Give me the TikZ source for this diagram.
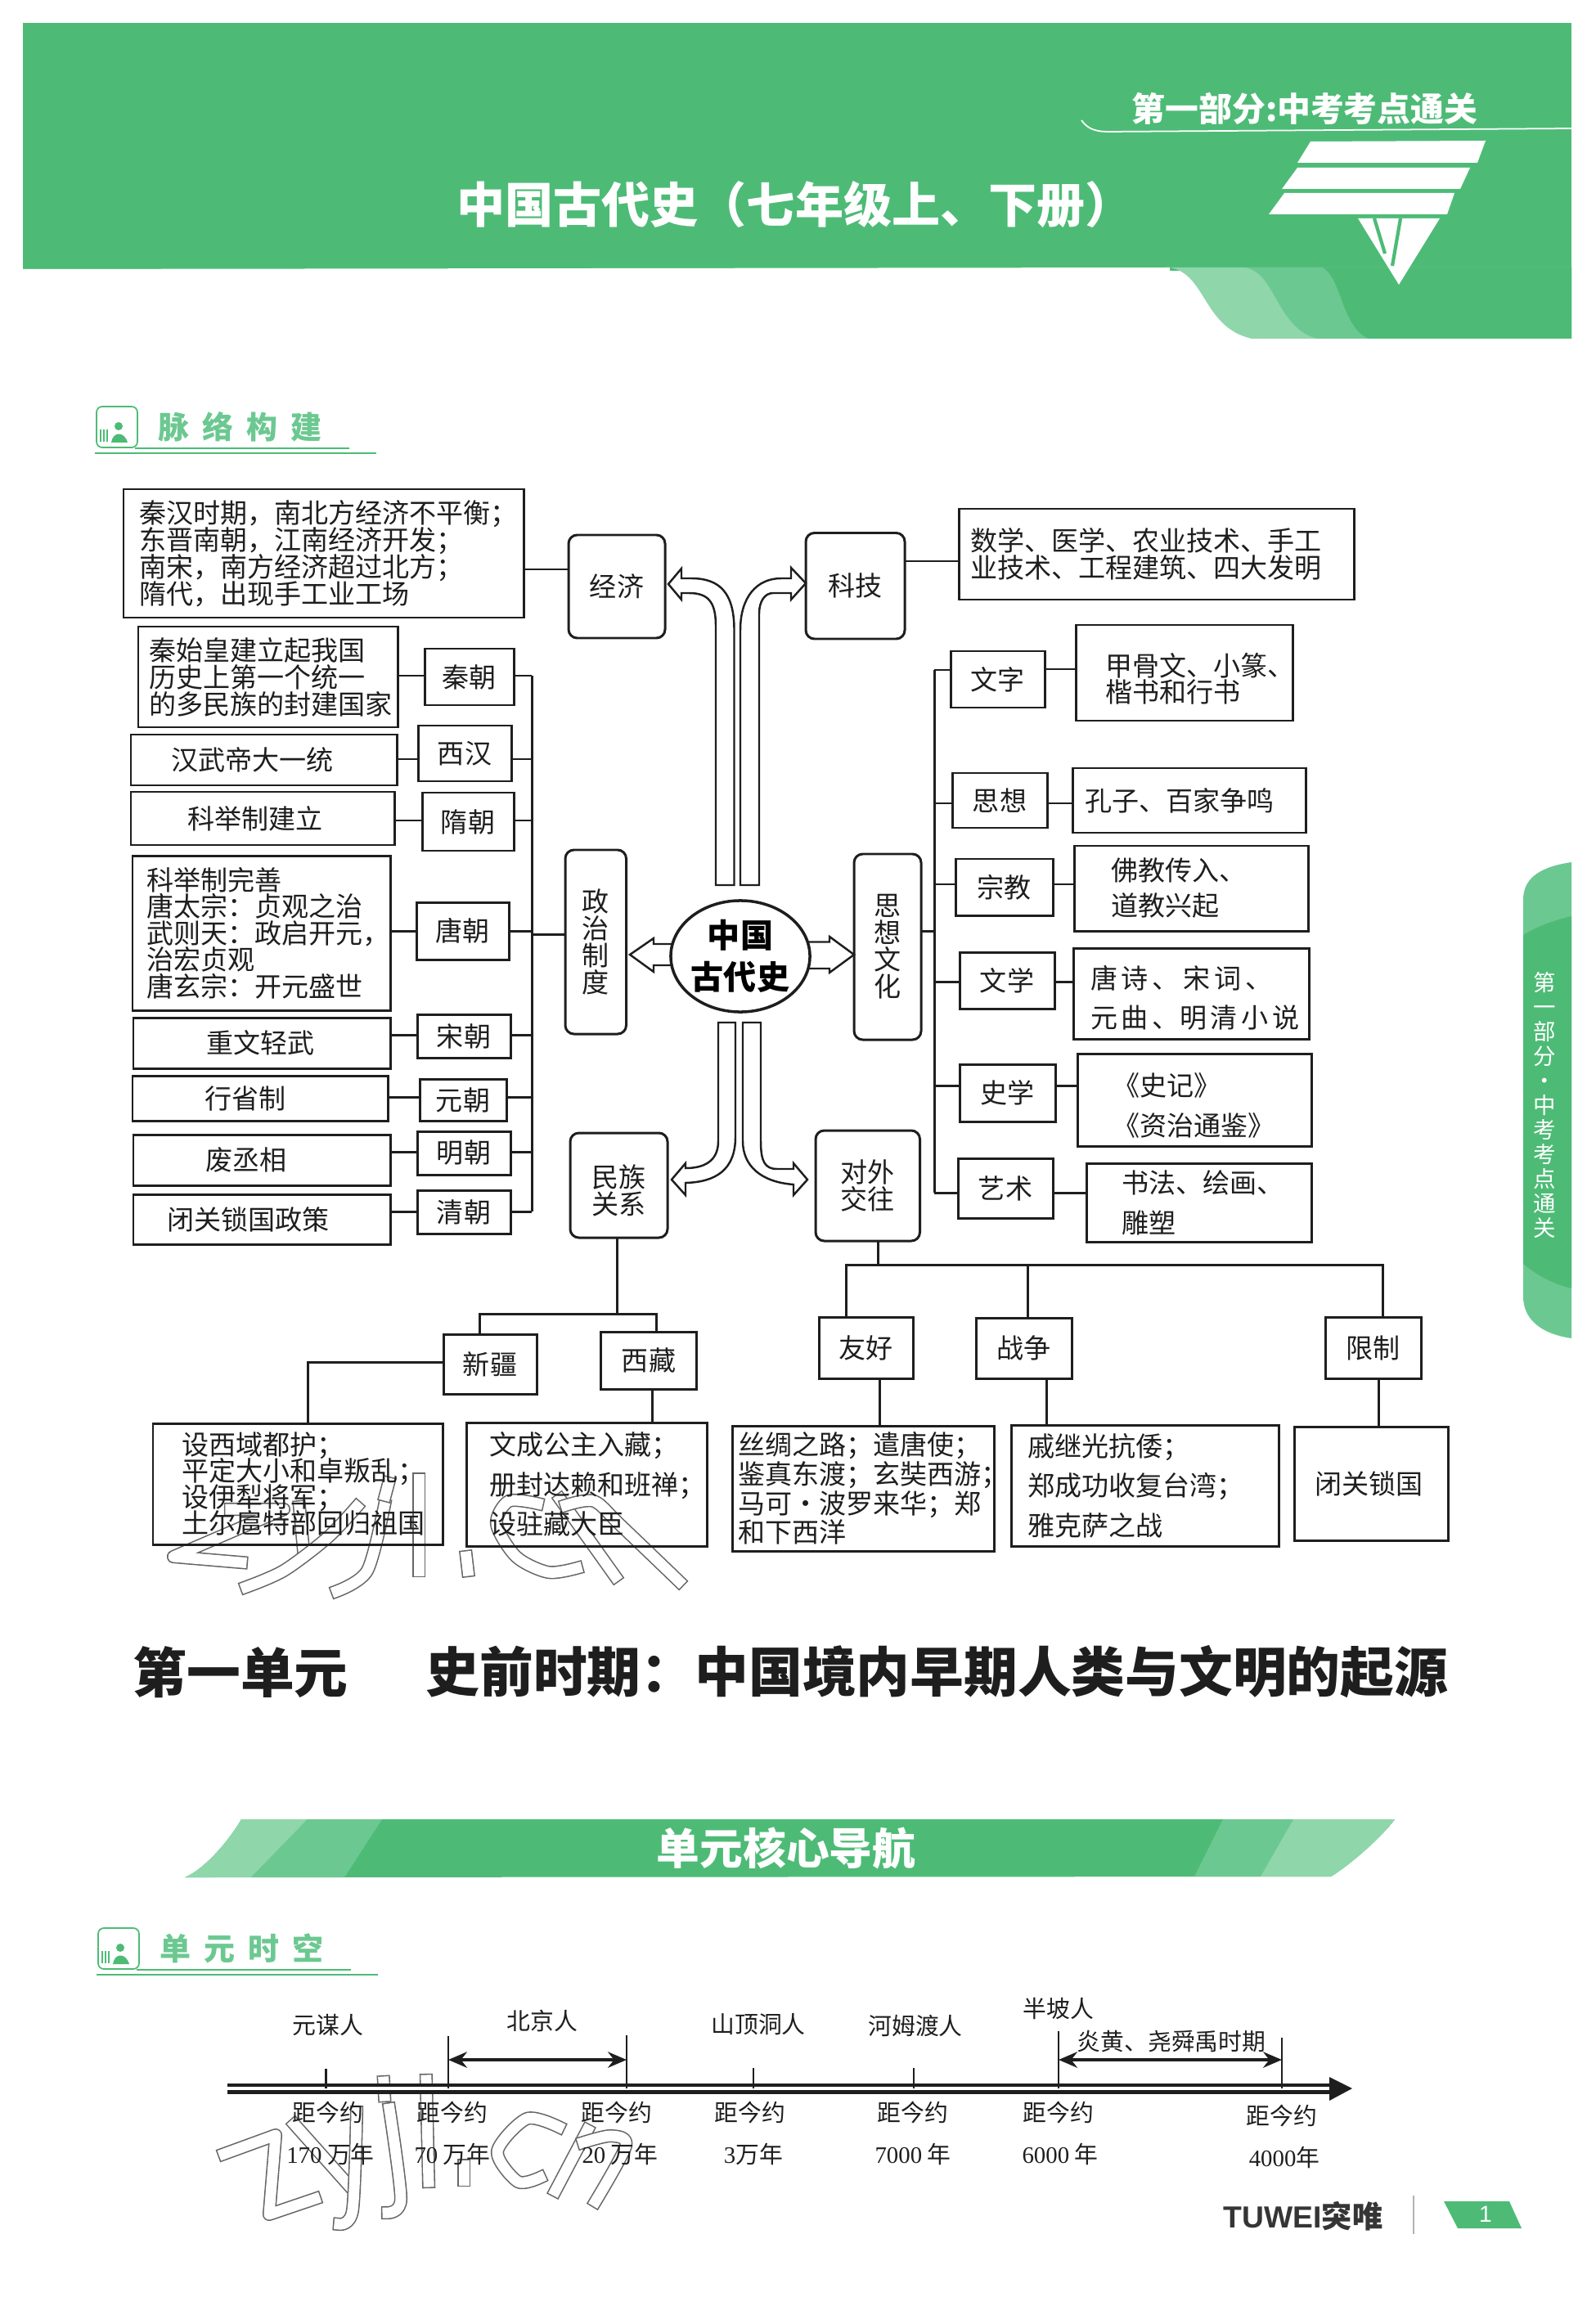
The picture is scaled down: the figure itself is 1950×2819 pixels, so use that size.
\documentclass[tikz,border=0pt]{standalone}
\usepackage{fontspec}
\setmainfont{Noto Sans CJK SC}
\newfontfamily\latnserif{Liberation Serif}
\newfontfamily\latnsans{Liberation Sans}
\usetikzlibrary{shapes.geometric,arrows.meta,calc}
\definecolor{inkc}{HTML}{1E1E1E}
\definecolor{greenmain}{HTML}{4DBB76}
\definecolor{greenmid}{HTML}{6CC891}
\definecolor{greenlight}{HTML}{8FD6AB}
\definecolor{wmgray}{HTML}{666666}
\newcommand{\fs}[2]{\fontsize{#1}{#2}\selectfont\lineskiplimit=-30pt\relax}
\newcommand{\lift}[1]{\rule{0pt}{#1}}
\newcommand{\gp}{\kern1.4pt}
\tikzset{
  ls/.style={font=\fs{9.4}{#1}},
  tb/.style n args={3}{draw=inkc,line width=.85pt,anchor=north west,outer sep=0pt,align=left,text=inkc,
    inner ysep=0pt,inner xsep=#3*0.01cm,text width={(#1-2*#3)*0.01cm},
    minimum width=#1*0.01cm,minimum height=#2*0.01cm},
  sb/.style 2 args={draw=inkc,line width=.85pt,anchor=north west,outer sep=0pt,align=center,text=inkc,
    inner sep=0pt,minimum width=#1*0.01cm,minimum height=#2*0.01cm},
  rb/.style 2 args={sb={#1}{#2},rounded corners=3pt},
  link/.style={draw=inkc,line width=.85pt},
  hollowarrow/.style={draw=inkc,line width=.7pt,fill=white,line join=miter},
  small/.style={font=\fs{8.2}{9},text=inkc,inner sep=0pt},
  wmout/.style={draw=wmgray,line width=4.6pt,line cap=rect,line join=round},
  wmin/.style={draw=white,line width=3.7pt,line cap=rect,line join=round},
  tick/.style={draw=inkc,line width=.7pt},
  span/.style={draw=inkc,line width=1.3pt,{Stealth[length=6.5pt,width=5.5pt]}-{Stealth[length=6.5pt,width=5.5pt]}}
}
\newcommand{\wmstroke}[1]{\draw[wmout] #1; \draw[wmin] #1;}
\newcommand{\sectionhead}[4]{
  \begin{scope}[shift={(#1,#2)}]
    \draw[greenmain,line width=.5pt,rounded corners=2pt,fill=white] (0,0) rectangle (50,50);
    \fill[greenmain] (27,24) circle (5);
    \fill[greenmain] (18,44) .. controls (20,30) and (34,30) .. (38,44) -- cycle;
    \draw[greenmain,line width=.6pt] (5,28) -- (5,43) (9,28) -- (9,43) (13,28) -- (13,43);
    \draw[greenmain,line width=.4pt] (47,51) -- (309,51) (-2,57) -- (342,57);
  \end{scope}
  \node[font=\bfseries\fs{10.8}{12},text=greenmid,anchor=west,inner sep=0pt] (#3) at ($(#1,#2)+(75,25)$) {#4};
}
\begin{document}
\begin{tikzpicture}[x=0.01cm,y=-0.01cm,every node/.style={font=\fs{9.4}{9.4}}]
\useasboundingbox (0,0) rectangle (1950,2819);
% header
\fill[greenmain] (28,28) rectangle (1921,331);
\fill[white] (28,329) -- (1430,327) -- (1430,331) -- (28,331) -- cycle;
\fill[greenlight] (1430,327) .. controls (1475,335) and (1470,400) .. (1530,414) -- (1921,414) -- (1921,327) -- cycle;
\fill[greenmid] (1523,327) .. controls (1560,335) and (1560,400) .. (1610,414) -- (1921,414) -- (1921,327) -- cycle;
\fill[greenmain] (1617,327) .. controls (1640,340) and (1640,400) .. (1673,414) -- (1921,414) -- (1921,327) -- cycle;
\node[font=\bfseries\fs{11.6}{14},text=white,inner sep=0pt] (parthead) at (1595,133) {第一部分:中考考点通关};
\draw[white,line width=.5pt] (1322,147) .. controls (1328,155) and (1335,161) .. (1355,161) -- (1921,157);
\node[font=\bfseries\fs{16.8}{20},text=white,inner sep=0pt] (maintitle) at (972,250) {中国古代史（七年级上、下册）};
\fill[white] (1602,173) -- (1816,172) -- (1806,199) -- (1586,199) -- cycle;
\fill[white] (1586,205) -- (1797,205) -- (1785,231) -- (1567,231) -- cycle;
\fill[white] (1570,236) -- (1778,236) -- (1769,262) -- (1551,262) -- cycle;
\fill[white] (1660,267) -- (1760,267) -- (1710,348) -- cycle;
\draw[greenmain,line width=1.2pt] (1680,267) -- (1693,310) (1712,267) -- (1702,325);
\sectionhead{118}{497}{mailuo}{脉\hspace{4.5pt}络\hspace{4.5pt}构\hspace{4.5pt}建}
% watermark upper
\wmstroke{(282,1845) -- (347,1845) -- (212,1903) -- (295,1910)}
\wmstroke{(366,1842) -- (371,1895)}
\wmstroke{plot[smooth] coordinates {(436,1842) (400,1880) (347,1920) (301,1940)}}
\wmstroke{plot[smooth] coordinates {(470,1840) (449,1920) (412,1945)}}
\wmstroke{(475,1813) -- (471,1828)}
\wmstroke{(512,1808) -- (512,1920)}
\wmstroke{(570,1903) -- (572,1920)}
\wmstroke{plot[smooth] coordinates {(657,1838) (622,1835) (607,1863) (631,1903) (670,1922) (705,1917)}}
\wmstroke{(685,1833) -- (752,1927)}
\wmstroke{plot[smooth] coordinates {(692,1840) (726,1835) (757,1863) (830,1933)}}
% watermark lower
\wmstroke{(274,2633) -- (337,2610) -- (329,2707) -- (385,2688)}
\wmstroke{(360,2597) -- (426,2671)}
\wmstroke{plot[smooth] coordinates {(436,2582) (431,2702) (415,2719)}}
\wmstroke{plot[smooth] coordinates {(476,2578) (490,2688) (474,2705)}}
\wmstroke{(469,2545) -- (470,2562)}
\wmstroke{(521,2543) -- (524,2667)}
\wmstroke{(567,2647) -- (567,2665)}
\wmstroke{plot[smooth] coordinates {(683,2600) (644,2590) (608,2630) (633,2667) (660,2662)}}
\wmstroke{(718,2604) -- (679,2678)}
\wmstroke{plot[smooth] coordinates {(713,2619) (747,2611) (765,2623) (728,2691)}}
% hollow arrows round the centre
\draw[hollowarrow] (875,1082) -- (875,765) .. controls (875,735) and (865,725) .. (842,725) -- (833,725) -- (833,733) -- (817,714) -- (833,695) -- (833,707) -- (845,707) .. controls (880,707) and (897.5,725) .. (897.5,770) -- (897.5,1082) -- cycle;
\draw[hollowarrow] (905,1082) -- (905,770) .. controls (905,730) and (925,707) .. (955,707) -- (967,707) -- (967,694) -- (985,713) -- (967,733) -- (967,725) -- (945,725) .. controls (935,725) and (928,735) .. (928,750) -- (928,1082) -- cycle;
\draw[hollowarrow] (878,1250) -- (878,1395) .. controls (878,1420) and (860,1428) .. (838,1428) -- (838,1422) -- (821,1442) -- (838,1461) -- (838,1446) .. controls (875,1445) and (899,1430) .. (899,1390) -- (899,1250) -- cycle;
\draw[hollowarrow] (908,1250) -- (908,1395) .. controls (908,1425) and (930,1445) .. (970,1448) -- (970,1461) -- (987,1442) -- (970,1422) -- (970,1429) -- (950,1429) .. controls (935,1429) and (930,1420) .. (930,1395) -- (930,1250) -- cycle;
\draw[hollowarrow] (830,1154) -- (799,1154) -- (799,1147) -- (770,1167) -- (799,1188) -- (799,1180) -- (830,1180);
\draw[hollowarrow] (980,1151.5) -- (1014,1151.5) -- (1014,1145) -- (1044,1167) -- (1014,1189) -- (1014,1184) -- (980,1184);
\node[draw=inkc,ellipse,line width=1pt,fill=white,minimum width=1.65cm,minimum height=1.36cm,inner sep=0pt,align=center,font=\bfseries\fs{11.4}{14.5}] (centre) at (905,1169) {中国\\古代史};
% branch boxes
\node[rb={118}{126}] (jingji) at (695,654) {经济};
\node[rb={121}{129.5}] (keji) at (985,651.5) {科技};
\node[rb={74.5}{225}] (zhengzhi) at (691,1039) {政\\治\\制\\度};
\node[rb={82}{227}] (sixiang) at (1044,1044) {思\\想\\文\\化};
\node[rb={119}{128}] (minzu) at (697,1385) {\lift{11.7pt}民族\\关系};
\node[rb={127.5}{135}] (duiwai) at (997,1382) {对外\\交往};
% economy and science
\node[tb={489}{157}{19},ls=9.4] (jingjitext) at (151,598) {秦汉时期，南北方经济不平衡；\\东晋南朝，江南经济开发；\\南宋，南方经济超过北方；\\隋代，出现手工业工场};
\node[tb={483}{111}{14},ls=9.4] (kejitext) at (1172,622) {数学、医学、农业技术、手工\\业技术、工程建筑、四大发明};
\draw[link] (jingjitext.east |- 0,696) -- (jingji.west |- 0,696);
\draw[link] (keji.east |- 0,686) -- (kejitext.west |- 0,686);
% dynasties
\node[tb={317}{123}{13},ls=9.4] (qintext) at (169,766) {秦始皇建立起我国\\历史上第一个统一\\的多民族的封建国家};
\node[sb={109}{69}] (qin) at (519,793) {秦朝};
\node[tb={325}{62}{49}] (xihantext) at (160,898) {汉武帝大一统};
\node[sb={114}{68}] (xihan) at (511,887) {西汉};
\node[tb={322}{65}{69}] (suitext) at (160,968) {科举制建立};
\node[sb={112}{71}] (sui) at (516,969) {隋朝};
\node[tb={315}{188.5}{17},ls=9.25] (tangtext) at (162,1046.5) {科举制完善\\唐太宗：贞观之治\\武则天：政启开元，\\治宏贞观\\唐玄宗：开元盛世};
\node[sb={113}{70}] (tang) at (509,1103) {唐朝};
\node[tb={314}{62}{89}] (songtext) at (163,1244) {重文轻武};
\node[sb={114}{53}] (song) at (510,1240) {宋朝};
\node[tb={312}{55}{88}] (yuantext) at (162,1315) {行省制};
\node[sb={106}{51}] (yuan) at (513,1319) {元朝};
\node[tb={314}{62}{88}] (mingtext) at (163,1387) {废丞相};
\node[sb={114}{53}] (ming) at (510,1383) {明朝};
\node[tb={314}{61}{41}] (qingtext) at (163,1460) {闭关锁国政策};
\node[sb={114}{53}] (qing) at (510,1455) {清朝};
\coordinate (zhengtop) at (650,826);
\coordinate (zhengbot) at (650,1481);
\draw[link] (zhengtop) -- (zhengbot);
\draw[link] (qintext.east |- 0,826) -- (qin.west |- 0,826);
\draw[link] (qin.east |- 0,826) -- (zhengtop);
\draw[link] (xihantext.east |- 0,928) -- (xihan.west |- 0,928);
\draw[link] (xihan.east |- 0,928) -- (zhengtop |- 0,928);
\draw[link] (suitext.east |- 0,1003) -- (sui.west |- 0,1003);
\draw[link] (sui.east |- 0,1003) -- (zhengtop |- 0,1003);
\draw[link] (tangtext.east |- 0,1138) -- (tang.west |- 0,1138);
\draw[link] (tang.east |- 0,1138) -- (zhengtop |- 0,1138);
\draw[link] (zhengtop |- 0,1142) -- (zhengzhi.west |- 0,1142);
\draw[link] (songtext.east |- 0,1265) -- (song.west |- 0,1265);
\draw[link] (song.east |- 0,1265) -- (zhengtop |- 0,1265);
\draw[link] (yuantext.east |- 0,1341) -- (yuan.west |- 0,1341);
\draw[link] (yuan.east |- 0,1341) -- (zhengtop |- 0,1341);
\draw[link] (mingtext.east |- 0,1408) -- (ming.west |- 0,1408);
\draw[link] (ming.east |- 0,1408) -- (zhengtop |- 0,1408);
\draw[link] (qingtext.east |- 0,1481) -- (qing.west |- 0,1481);
\draw[link] (qing.east |- 0,1481) -- (zhengbot);
% culture
\node[sb={115}{69}] (wenzi) at (1162,796) {文字};
\node[tb={265}{117}{36},ls=9.1] (wenzitext) at (1315,764) {\lift{12.3pt}甲骨文、小篆、\\楷书和行书};
\node[sb={116}{67}] (sixiangb) at (1164,945) {思想};
\node[tb={285}{79}{15}] (sixiangtext) at (1311,939) {孔子、百家争鸣};
\node[sb={119}{69}] (zongjiao) at (1168,1050) {宗教};
\node[tb={286.5}{104}{45},ls=12.2] (zongjiaotext) at (1313,1034) {佛教传入、\\道教兴起};
\node[sb={116}{69}] (wenxue) at (1173,1164) {文学};
\node[tb={288.5}{111}{21},ls=13.7] (wenxuetext) at (1312,1159) {\lift{11.1pt}唐\gp 诗\gp 、\gp 宋\gp 词\gp 、\\元\gp 曲\gp 、明\gp 清\gp 小\gp 说};
\node[sb={116.5}{70.5}] (shixue) at (1173.5,1301) {史学};
\node[tb={286}{113}{43},ls=13.9] (shixuetext) at (1317,1288) {\lift{11.7pt}《史记》\\《资治通鉴》};
\node[sb={116}{73}] (yishu) at (1171,1416) {艺术};
\node[tb={275}{96}{43},ls=13.9] (yishutext) at (1328,1422) {书法、绘画、\\雕塑};
\coordinate (culturetop) at (1142,819);
\coordinate (culturebot) at (1142,1458);
\draw[link] (culturetop) -- (culturebot);
\draw[link] (sixiang.east |- 0,1138) -- (culturetop |- 0,1138);
\draw[link] (culturetop) -- (wenzi.west |- culturetop);
\draw[link] (wenzi.east |- 0,818) -- (wenzitext.west |- 0,818);
\draw[link] (culturetop |- 0,982) -- (sixiangb.west |- 0,982);
\draw[link] (sixiangb.east |- 0,982) -- (sixiangtext.west |- 0,982);
\draw[link] (culturetop |- 0,1081) -- (zongjiao.west |- 0,1081);
\draw[link] (zongjiao.east |- 0,1081) -- (zongjiaotext.west |- 0,1081);
\draw[link] (culturetop |- 0,1200) -- (wenxue.west |- 0,1200);
\draw[link] (wenxue.east |- 0,1200) -- (wenxuetext.west |- 0,1200);
\draw[link] (culturetop |- 0,1327) -- (shixue.west |- 0,1327);
\draw[link] (shixue.east |- 0,1327) -- (shixuetext.west |- 0,1327);
\draw[link] (culturebot) -- (yishu.west |- culturebot);
\draw[link] (yishu.east |- 0,1458) -- (yishutext.west |- 0,1458);
% ethnic relations
\node[sb={114}{73}] (xinjiang) at (542,1631) {新疆};
\node[sb={117}{69.5}] (xizang) at (734.5,1628.5) {西藏};
\node[tb={354}{148}{35},ls=9.1] (xinjiangtext) at (187,1740) {设西域都护；\\平定大小和卓叛乱；\\设伊犁将军；\\土尔扈特部回归祖国};
\node[tb={294}{151}{28},ls=13.7] (xizangtext) at (570,1739) {文成公主入藏；\\册封达赖和班禅；\\设驻藏大臣};
\coordinate (minzujoin) at (754.5,1606);
\draw[link] (minzu.south -| minzujoin) -- (minzujoin);
\draw[link] (xinjiang.north -| 586,0) -- (minzujoin -| 586,0) -- (minzujoin -| 802,0) -- (xizang.north -| 802,0);
\draw[link] (xinjiang.west |- 0,1665) -- (376,1665) -- (xinjiangtext.north -| 376,0);
\draw[link] (xizang.south -| 797,0) -- (xizangtext.north -| 797,0);
% foreign relations
\node[sb={115.5}{74.5}] (youhao) at (1001,1610.5) {友好};
\node[sb={117}{74.5}] (zhanzheng) at (1193,1611) {战争};
\node[sb={117}{75.5}] (xianzhi) at (1620,1610) {限制};
\node[tb={320}{153}{7},ls=10.15] (youhaotext) at (895,1743) {丝绸之路；遣唐使；\\鉴真东渡；玄奘西游；\\马可·波罗来华；郑\\和下西洋};
\node[tb={327}{148}{20},ls=13.8] (zhanzhengtext) at (1236,1742) {戚继光抗倭；\\郑成功收复台湾；\\雅克萨之战};
\node[tb={188}{139}{25}] (xianzhitext) at (1582,1744) {闭关锁国};
\coordinate (duiwaijoin) at (1073,1546.5);
\draw[link] (duiwai.south -| duiwaijoin) -- (duiwaijoin);
\draw[link] (youhao.north -| 1034,0) -- (duiwaijoin -| 1034,0) -- (duiwaijoin -| 1690.5,0) -- (xianzhi.north -| 1690.5,0);
\draw[link] (duiwaijoin -| 1256,0) -- (zhanzheng.north -| 1256,0);
\draw[link] (youhao.south -| 1075,0) -- (youhaotext.north -| 1075,0);
\draw[link] (zhanzheng.south -| 1279,0) -- (zhanzhengtext.north -| 1279,0);
\draw[link] (xianzhi.south -| 1685.5,0) -- (xianzhitext.north -| 1685.5,0);
% unit heading
\node[font=\bfseries\fs{18.7}{22},text=inkc,anchor=west,inner sep=0pt] (unitno) at (162,2044) {第一单元};
\node[font=\bfseries\fs{18.7}{22},text=inkc,anchor=west,inner sep=0pt] (unitname) at (520,2044) {史前时期：中国境内早期人类与文明的起源};
% banner
\fill[greenmain] (295,2224) -- (1705,2224) .. controls (1690,2245) and (1650,2280) .. (1627,2294) -- (226,2295) .. controls (250,2285) and (280,2250) .. (295,2224) -- cycle;
\fill[greenlight] (295,2224) -- (376,2224) -- (307,2295) -- (226,2295) .. controls (250,2285) and (280,2250) .. (295,2224) -- cycle;
\fill[greenmid] (376,2224) -- (467,2224) -- (421,2295) -- (307,2295) -- cycle;
\fill[greenmid] (1495,2224) -- (1581,2224) -- (1541,2294) -- (1460,2294) -- cycle;
\fill[greenlight] (1581,2224) -- (1705,2224) .. controls (1690,2245) and (1650,2280) .. (1627,2294) -- (1541,2294) -- cycle;
\node[font=\bfseries\fs{15}{18},text=white,inner sep=0pt] (banner) at (961,2259) {单元核心导航};
\sectionhead{120}{2357}{shikong}{单\hspace{4.5pt}元\hspace{4.5pt}时\hspace{4.5pt}空}
% timeline
\coordinate (axisstart) at (278,2553);
\coordinate (axisend) at (1625,2553);
\coordinate (axistip) at (1653,2553);
\draw[inkc,line width=1.3pt,double=white,double distance=1.1pt] (axisstart) -- (axisend);
\fill[inkc] (axisend |- 0,2539) -- (axistip) -- (axisend |- 0,2568) -- cycle;
\coordinate (tyuanmou) at (398.5,2553);
\coordinate (tbeijinga) at (548,2553);
\coordinate (tbeijingb) at (766,2553);
\coordinate (tshanding) at (921,2553);
\coordinate (themudu) at (1117,2553);
\coordinate (tbanpo) at (1294,2553);
\coordinate (tyanhuang) at (1567,2553);
\draw[tick] (tyuanmou) -- (tyuanmou |- 0,2529);
\draw[tick] (tbeijinga) -- (tbeijinga |- 0,2489);
\draw[tick] (tbeijingb) -- (tbeijingb |- 0,2488);
\draw[tick] (tshanding) -- (tshanding |- 0,2528);
\draw[tick] (themudu) -- (themudu |- 0,2528);
\draw[tick] (tbanpo) -- (tbanpo |- 0,2483);
\draw[tick] (tyanhuang) -- (tyanhuang |- 0,2491);
\draw[span] (tbeijinga |- 0,2518) -- (tbeijingb |- 0,2518);
\draw[span] (tbanpo |- 0,2518) -- (tyanhuang |- 0,2518);
\node[small] (yuanmou) at (401,2476) {元谋人};
\node[small] (beijing) at (663,2470) {北京人};
\node[small] (shanding) at (927,2475) {山顶洞人};
\node[small] (hemudu) at (1119,2476) {河姆渡人};
\node[small] (banpo) at (1294,2455) {半坡人};
\node[small] (yanhuang) at (1432,2496) {炎黄、尧舜禹时期};
\node[small] (juyuanmou) at (401,2582) {距今约};
\node[small] (jubeijinga) at (553,2582) {距今约};
\node[small] (jubeijingb) at (754,2582) {距今约};
\node[small] (jushanding) at (917,2582) {距今约};
\node[small] (juhemudu) at (1116,2582) {距今约};
\node[small] (jubanpo) at (1294,2582) {距今约};
\node[small] (juyanhuang) at (1567,2586) {距今约};
\node[small] (nianyuanmou) at (404,2633) {{\latnserif 170} 万年};
\node[small] (nianbeijinga) at (553,2633) {{\latnserif 70} 万年};
\node[small] (nianbeijingb) at (758,2633) {{\latnserif 20} 万年};
\node[small] (nianshanding) at (921,2633) {{\latnserif 3}万年};
\node[small] (nianhemudu) at (1116,2633) {{\latnserif 7000} 年};
\node[small] (nianbanpo) at (1296,2633) {{\latnserif 6000} 年};
\node[small] (nianyanhuang) at (1570,2637) {{\latnserif 4000}年};
% page furniture
\fill[greenmid] (1862,1100) .. controls (1862,1075) and (1880,1060) .. (1921,1054) -- (1921,1636) .. controls (1880,1630) and (1862,1610) .. (1862,1585) -- cycle;
\fill[greenmain] (1862,1143) .. controls (1880,1132) and (1900,1125) .. (1921,1120) -- (1921,1575) .. controls (1900,1570) and (1880,1560) .. (1862,1545) -- cycle;
\node[font=\fs{7.8}{8.54},text=white,align=center,inner sep=0pt] (sidetab) at (1888,1351) {第\\一\\部\\分\\·\\中\\考\\考\\点\\通\\关};
\node[anchor=west,inner sep=0pt,text=inkc!90,font=\bfseries\fs{10.6}{12}] (brand) at (1495,2709) {{\latnsans TUWEI}突唯};
\draw[gray!60,line width=.4pt] (1728,2684) -- (1728,2731);
\fill[greenmain] (1765,2691) -- (1845,2691) -- (1860,2724) -- (1782,2724) -- cycle;
\node[font=\fs{8}{9},text=white,inner sep=0pt] (pageno) at (1816,2707) {{\latnsans 1}};
\end{tikzpicture}
\end{document}
